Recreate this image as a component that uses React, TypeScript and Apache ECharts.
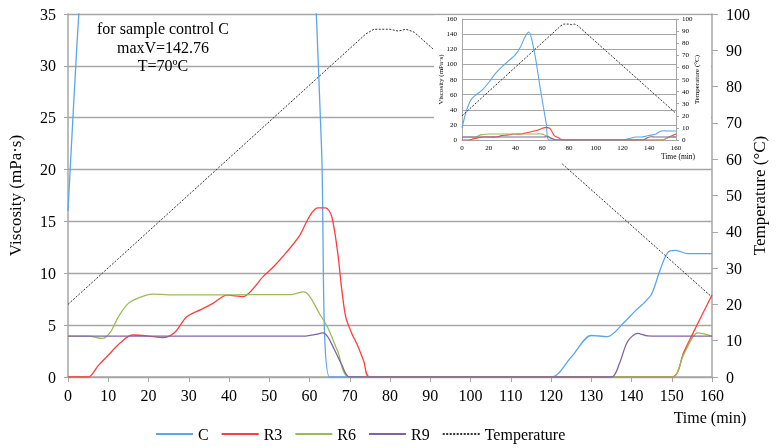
import React, { useEffect, useRef } from "react";
import * as echarts from "echarts";

// ---- data (time in min, viscosity in mPa·s, temperature in °C) ----
const cTime = [0, 1.5, 3, 5, 7, 10, 15, 20, 25, 30, 35, 40, 44, 47, 50, 52, 55, 58, 61, 63, 65, 120, 125, 130, 134, 138, 141, 143, 145, 147, 149, 151, 154, 160];
const cVisc = [16, 27, 37, 47, 54, 59, 66, 76, 88, 97, 105, 113, 124, 136, 142.76, 134, 108, 74, 42, 22, 0, 0, 1.9, 4.0, 3.9, 5.2, 6.4, 7.1, 8.0, 10.2, 12.0, 12.2, 11.9, 11.9];

const r3Time = [0, 5, 7.5, 10, 13, 16, 20, 23.5, 26.5, 29.5, 33, 36, 39.5, 43.5, 45.5, 48.5, 51, 54, 57.5, 60, 62, 64, 65.5, 67, 68, 69, 70.5, 72, 73.5, 75, 150, 153, 156, 160];
const r3Visc = [0, 0, 1.1, 2.1, 3.3, 4.05, 3.95, 3.8, 4.3, 5.8, 6.5, 7.1, 7.9, 7.75, 8.3, 9.7, 10.6, 11.9, 13.6, 15.5, 16.3, 16.3, 15.5, 12, 8.5, 5.8, 4.2, 3.0, 1.5, 0, 0, 2.4, 4.8, 7.9];

const r6Time = [0, 5, 8.5, 10.5, 12.5, 15, 18, 21, 25, 55.5, 58.5, 60, 62.5, 64.5, 67, 70, 150, 153, 156.5, 160];
const r6Visc = [3.95, 3.95, 3.72, 4.3, 5.8, 7.1, 7.7, 8.0, 7.92, 7.95, 8.2, 7.8, 6.1, 4.8, 2.5, 0, 0, 2.2, 4.25, 3.95];

const r9Time = [0, 59, 61.5, 63.3, 64.5, 66, 68, 70, 135, 137, 139, 141.5, 144, 147, 160];
const r9Visc = [3.95, 3.95, 4.1, 4.25, 3.9, 2.8, 1.2, 0, 0, 1.3, 3.4, 4.2, 3.97, 3.95, 3.95];

const tempTime = [0, 74, 76, 80, 82, 84, 86, 160];
const tempC = [20, 94.5, 95.8, 95.8, 95.3, 95.8, 95, 22];

const seriesNames = ["C", "R3", "R6", "R9", "Temperature"];
const seriesColors = ["#5aa6ec", "#ff3d3d", "#9bbb59", "#8064a2", "#333333"];
const annotation = ["for sample control C", "maxV=142.76", "T=70ºC"];

const FONT = '"Liberation Serif", "Times New Roman", serif';
const GRAY = "#a6a6a6";

const pairs = (t: number[], v: number[]) => t.map((x, i) => [x, v[i]]);

export default function App() {
  const ref = useRef<HTMLDivElement>(null);
  useEffect(() => {
    const chart = echarts.init(ref.current!, null, { renderer: "svg" });
    const viscData = [pairs(cTime, cVisc), pairs(r3Time, r3Visc), pairs(r6Time, r6Visc), pairs(r9Time, r9Visc)];
    const tempData = pairs(tempTime, tempC);

    const mkSeries = (inset: boolean) => {
      const s: any[] = viscData.map((d, i) => ({
        name: seriesNames[i],
        type: "line",
        data: d,
        xAxisIndex: inset ? 1 : 0,
        yAxisIndex: inset ? 2 : 0,
        showSymbol: false,
        symbol: "none",
        smooth: 0.3,
        z: inset ? 12 : 2 + i * 0.01,
        lineStyle: { color: seriesColors[i], width: inset ? 1.1 : 1.3 },
        itemStyle: { color: seriesColors[i] },
      }));
      s.push({
        name: "Temperature",
        type: "line",
        data: tempData,
        xAxisIndex: inset ? 1 : 0,
        yAxisIndex: inset ? 3 : 1,
        showSymbol: false,
        symbol: "none",
        z: inset ? 12 : 2,
        lineStyle: { color: seriesColors[4], width: 1, type: [2, 1.5] },
        itemStyle: { color: seriesColors[4] },
      });
      return s;
    };

    const lbl = (size: number, margin: number) => ({ fontFamily: FONT, fontSize: size, color: "#000", margin });

    const option: any = {
      animation: false,
      textStyle: { fontFamily: FONT },
      grid: [
        { left: 68, right: 64, top: 14, bottom: 71, containLabel: false, outerBoundsMode: "none" },
        { left: 462, top: 19, width: 214, height: 121, z: 11, containLabel: false, outerBoundsMode: "none" },
      ],
      xAxis: [
        {
          type: "value", gridIndex: 0, min: 0, max: 160, interval: 10,
          axisLine: { lineStyle: { color: GRAY, width: 1.5 } },
          axisTick: { show: true, length: 5, lineStyle: { color: GRAY } },
          axisLabel: lbl(16, 10),
          splitLine: { show: false },
        },
        {
          type: "value", gridIndex: 1, min: 0, max: 160, interval: 20, z: 11,
          axisLine: { lineStyle: { color: GRAY, width: 1 } },
          axisTick: { show: false },
          axisLabel: lbl(7, 4),
          splitLine: { show: false },
        },
      ],
      yAxis: [
        {
          type: "value", gridIndex: 0, min: 0, max: 35, interval: 5,
          name: "Viscosity (mPa·s)", nameLocation: "middle", nameGap: 44, nameRotate: 90, nameMoveOverlap: false,
          nameTextStyle: { fontFamily: FONT, fontSize: 17, color: "#000" },
          axisLine: { show: true, lineStyle: { color: GRAY, width: 1.5 } },
          axisTick: { show: true, length: 4, lineStyle: { color: GRAY } },
          axisLabel: lbl(16, 12),
          splitLine: { show: true, lineStyle: { color: GRAY, width: 1.3 } },
        },
        {
          type: "value", gridIndex: 0, position: "right", min: 0, max: 100, interval: 10,
          name: "Temperature (°C)", nameLocation: "middle", nameGap: 39, nameRotate: 90, nameMoveOverlap: false,
          nameTextStyle: { fontFamily: FONT, fontSize: 17, color: "#000" },
          axisLine: { show: true, lineStyle: { color: GRAY, width: 1.5 } },
          axisTick: { show: true, length: 6, lineStyle: { color: GRAY } },
          axisLabel: lbl(16, 14),
          splitLine: { show: false },
        },
        {
          type: "value", gridIndex: 1, min: 0, max: 160, interval: 20, z: 11,
          name: "Viscosity (mPa·s)", nameLocation: "middle", nameGap: 18, nameRotate: 90, nameMoveOverlap: false,
          nameTextStyle: { fontFamily: FONT, fontSize: 7, color: "#000" },
          axisLine: { show: true, lineStyle: { color: GRAY, width: 1 } },
          axisTick: { show: false },
          axisLabel: lbl(7, 5),
          splitLine: { show: true, lineStyle: { color: GRAY, width: 1.2 } },
        },
        {
          type: "value", gridIndex: 1, position: "right", min: 0, max: 100, interval: 10, z: 11,
          name: "Temperature (°C)", nameLocation: "middle", nameGap: 17, nameRotate: 90, nameMoveOverlap: false,
          nameTextStyle: { fontFamily: FONT, fontSize: 7, color: "#000" },
          axisLine: { show: true, lineStyle: { color: GRAY, width: 1 } },
          axisTick: { show: true, length: 3, lineStyle: { color: GRAY } },
          axisLabel: lbl(7, 6),
          splitLine: { show: false },
        },
      ],
      legend: {
        data: seriesNames,
        left: 155, top: 426, padding: 0,
        itemWidth: 37, itemHeight: 14, itemGap: 12,
        itemStyle: { opacity: 0 },
        textStyle: { fontFamily: FONT, fontSize: 16, color: "#000" },
      },
      graphic: {
        elements: [
          { type: "rect", z: 10, shape: { x: 434, y: 15.5, width: 277, height: 147.5 }, style: { fill: "#fff" } },
          ...annotation.map((t, i) => ({
            type: "text", z: 20, x: 163, y: 28.5 + i * 18.5,
            style: { text: t, font: `16px ${FONT}`, fill: "#000", textAlign: "center", textVerticalAlign: "middle" },
          })),
          { type: "text", z: 20, x: 710, y: 417, style: { text: "Time (min)", font: `16px ${FONT}`, fill: "#000", textAlign: "center", textVerticalAlign: "middle" } },
          { type: "text", z: 20, x: 678, y: 156, style: { text: "Time (min)", font: `7.5px ${FONT}`, fill: "#000", textAlign: "center", textVerticalAlign: "middle" } },
        ],
      },
      series: [...mkSeries(false), ...mkSeries(true)],
    };
    chart.setOption(option);
    return () => chart.dispose();
  }, []);
  return <div ref={ref} style={{ position: "fixed", left: 0, top: 0, width: 776, height: 448 }} />;
}
